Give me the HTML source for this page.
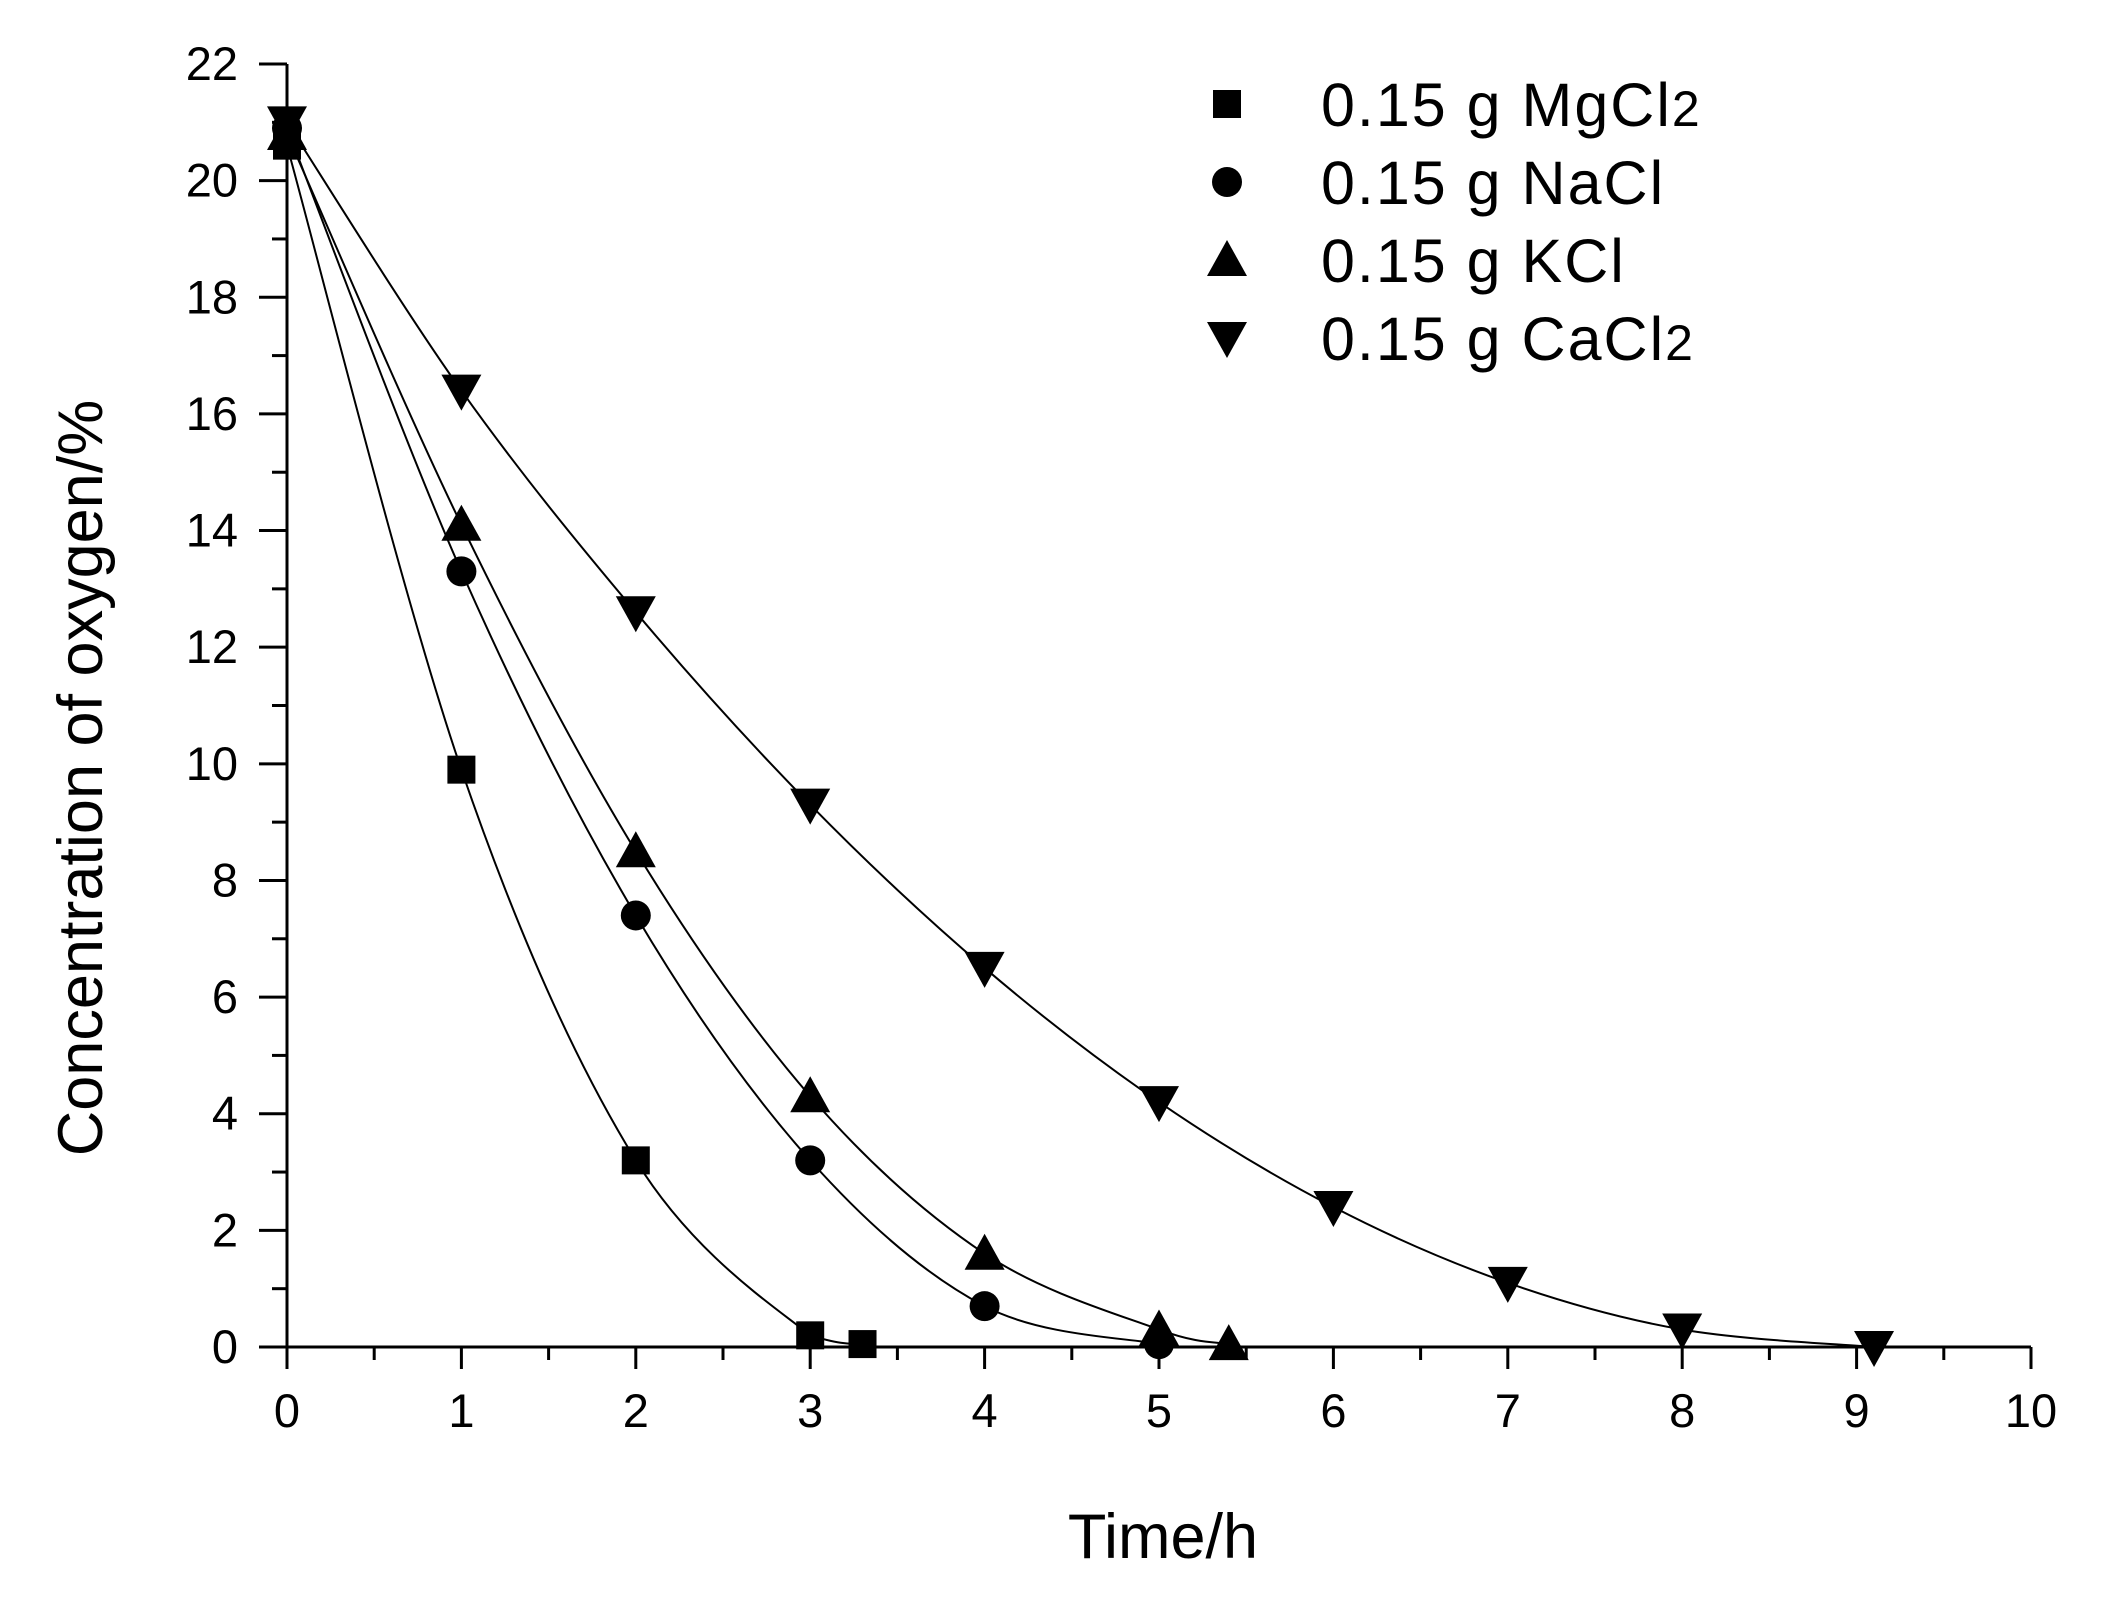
<!DOCTYPE html>
<html><head><meta charset="utf-8"><style>
html,body{margin:0;padding:0;background:#fff;}
svg{display:block;}
text{font-family:"Liberation Sans",Arial,sans-serif;fill:#000;}
</style></head><body>
<svg id="chart" width="2106" height="1611" viewBox="0 0 2106 1611" xmlns="http://www.w3.org/2000/svg">
<g id="axes"></g>
<g id="series"></g>
<g id="legend"></g>
<text x="1163" y="1558" font-size="63" text-anchor="middle">Time/h</text>
<text transform="translate(102,778) rotate(-90)" font-size="63" text-anchor="middle">Concentration of oxygen/%</text>
</svg>
<script>
const xTicks = [0,1,2,3,4,5,6,7,8,9,10];
const yTicks = [0,2,4,6,8,10,12,14,16,18,20,22];
const seriesNames = ["0.15 g MgCl2","0.15 g NaCl","0.15 g KCl","0.15 g CaCl2"];
const mgX = [0,1,2,3,3.3];
const mgY = [20.6,9.9,3.2,0.2,0.05];
const naX = [0,1,2,3,4,5];
const naY = [20.9,13.3,7.4,3.2,0.7,0.05];
const kX = [0,1,2,3,4,5,5.4];
const kY = [20.8,14.1,8.5,4.3,1.6,0.3,0.05];
const caX = [0,1,2,3,4,5,6,7,8,9.1];
const caY = [21.0,16.4,12.6,9.3,6.5,4.2,2.4,1.1,0.3,0.0];

const NS="http://www.w3.org/2000/svg";
const X0=287,X1=2031,Y0=1347,Y1=64;
const xs=v=>X0+(v-0)/(10-0)*(X1-X0);
const ys=v=>Y0-(v-0)/(22-0)*(Y0-Y1);
function mk(tag,attrs,parent){const e=document.createElementNS(NS,tag);for(const k in attrs)e.setAttribute(k,attrs[k]);parent.appendChild(e);return e;}
const axes=document.getElementById('axes');
let a=mk('line',{x1:X0,y1:Y1,x2:X0,y2:Y0,stroke:'#000','stroke-width':3},axes);


a=mk('line',{x1:X0,y1:Y0,x2:X1,y2:Y0,stroke:'#000','stroke-width':3},axes);


for(let i=0;i<xTicks.length;i++){
  const v=xTicks[i];
  let t=mk('line',{x1:xs(v),y1:Y0,x2:xs(v),y2:Y0+22,stroke:'#000','stroke-width':3},axes);
  
  
  if(i<xTicks.length-1){
    let m=mk('line',{x1:xs(v+0.5),y1:Y0,x2:xs(v+0.5),y2:Y0+13,stroke:'#000','stroke-width':3},axes);
    
    
  }
  let l=mk('text',{x:xs(v),y:1427,'font-size':47,'text-anchor':'middle'},axes);
  l.textContent=v;
  
  
}
for(let i=0;i<yTicks.length;i++){
  const v=yTicks[i];
  let t=mk('line',{x1:X0-28,y1:ys(v),x2:X0,y2:ys(v),stroke:'#000','stroke-width':3},axes);
  
  
  if(i<yTicks.length-1){
    let m=mk('line',{x1:X0-15,y1:ys(v+1),x2:X0,y2:ys(v+1),stroke:'#000','stroke-width':3},axes);
    
    
  }
  let l=mk('text',{x:238,y:ys(v)+16,'font-size':47,'text-anchor':'end'},axes);
  l.textContent=v;
  
  
}
function curvePath(X,Y){
  const p=X.map((x,i)=>[xs(x),ys(Y[i])]);
  let d='M'+p[0][0]+','+p[0][1];
  for(let i=0;i<p.length-1;i++){
    const p0=p[i-1]||p[i],p1=p[i],p2=p[i+1],p3=p[i+2]||p2;
    const c1=[p1[0]+(p2[0]-p0[0])/6,Math.min(Y0,p1[1]+(p2[1]-p0[1])/6)];
    const c2=[p2[0]-(p3[0]-p1[0])/6,Math.min(Y0,p2[1]-(p3[1]-p1[1])/6)];
    d+=' C'+c1[0]+','+c1[1]+' '+c2[0]+','+c2[1]+' '+p2[0]+','+p2[1];
  }
  return d;
}
function marker(shape,cx,cy,parent){
  let e;
  if(shape==='square') e=mk('rect',{x:cx-14,y:cy-14,width:28,height:28,fill:'#000'},parent);
  else if(shape==='circle') e=mk('circle',{cx:cx,cy:cy,r:15,fill:'#000'},parent);
  else if(shape==='up') e=mk('polygon',{points:`${cx},${cy-20} ${cx+20},${cy+16} ${cx-20},${cy+16}`,fill:'#000'},parent);
  else e=mk('polygon',{points:`${cx-20},${cy-16} ${cx+20},${cy-16} ${cx},${cy+20}`,fill:'#000'},parent);
  return e;
}
const sg=document.getElementById('series');
const all=[[mgX,mgY,'square','mgcl2'],[naX,naY,'circle','nacl'],[kX,kY,'up','kcl'],[caX,caY,'down','cacl2']];
all.forEach(s=>{
  const g=mk('g',{},sg);
  
  
  const path=mk('path',{d:curvePath(s[0],s[1]),fill:'none',stroke:'#000','stroke-width':2},g);
  
  
  s[0].forEach((x,i)=>{
    const m=marker(s[2],xs(x),ys(s[1][i]),g);
    
    
  });
});
const lg=document.getElementById('legend');
const shapes=['square','circle','up','down'];
const subs=['MgCl','NaCl','KCl','CaCl'];
const has2=[true,false,false,true];
for(let i=0;i<4;i++){
  const cy=104+i*78;
  const g=mk('g',{},lg);
  
  
  const m=marker(shapes[i],1227,cy,g);
  
  
  const t=mk('text',{x:1321,y:cy+22,'font-size':61,'letter-spacing':2},g);
  
  
  t.textContent='0.15 g '+subs[i];
  if(has2[i]){const ts=mk('tspan',{'font-size':50},t);ts.textContent='2';}
}
</script>
</body></html>
